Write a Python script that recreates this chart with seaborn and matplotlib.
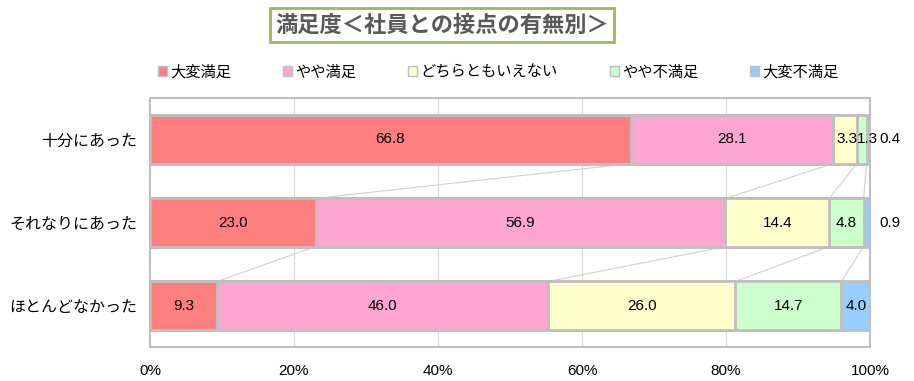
import numpy as np
import pandas as pd
import matplotlib
matplotlib.use('Agg')
import matplotlib.pyplot as plt
import seaborn as sns
from matplotlib.patches import Patch

sns.set_style('white')
plt.rcParams['font.family'] = ['Noto Sans CJK JP', 'DejaVu Sans']

# Data
groups = ['十分にあった', 'それなりにあった', 'ほとんどなかった']
levels = ['大変満足', 'やや満足', 'どちらともいえない', 'やや不満足', '大変不満足']
very_satisfied = [66.8, 23.0, 9.3]
satisfied = [28.1, 56.9, 46.0]
neutral = [3.3, 14.4, 26.0]
dissatisfied = [1.3, 4.8, 14.7]
very_dissatisfied = [0.4, 0.9, 4.0]
colors = ['#FF7F7F', '#FFA5D2', '#FFFFCC', '#CCFFCC', '#99CCFF']

values = np.array([very_satisfied, satisfied, neutral, dissatisfied, very_dissatisfied])
cum = values.cumsum(axis=0)

fig = plt.figure(figsize=(9.14, 3.81), dpi=100)
ax = fig.add_axes([0.164, 0.089, 0.788, 0.654])

# vertical grid behind bars
for g in [20, 40, 60, 80]:
    ax.axvline(g, color='#D9D9D9', lw=0.8, zorder=0)

# stacked bars: draw cumulative totals from largest to smallest
for i in range(len(levels) - 1, -1, -1):
    df = pd.DataFrame({'group': groups, 'value': cum[i]})
    sns.barplot(data=df, x='value', y='group', orient='h', color=colors[i],
                width=0.58, edgecolor='#BFBFBF', linewidth=2, saturation=1,
                ax=ax, zorder=2)

# series lines between bars
half = 0.29
for i in range(len(levels)):
    for r in range(len(groups) - 1):
        ax.plot([cum[i][r], cum[i][r + 1]], [r + half, r + 1 - half],
                color='#D0D0D0', lw=0.8, zorder=1)

# data labels
num_font = ['Liberation Sans', 'DejaVu Sans']
for r in range(len(groups)):
    left = 0
    for i in range(len(levels)):
        v = values[i][r]
        txt = f'{v:.1f}'
        if v < 1.0:
            ax.text(101.3, r, txt, ha='left', va='center', fontsize=11,
                    family=num_font, color='black')
        elif v < 2.0:
            # narrow segment: anchor on its left edge so it sits beside the neighbour
            ax.text(left - 0.1, r, txt, ha='left', va='center', fontsize=11,
                    family=num_font, color='black', zorder=3)
        elif v < 4.0:
            ax.text(left + v + 0.1, r, txt, ha='right', va='center', fontsize=11,
                    family=num_font, color='black', zorder=3)
        else:
            ax.text(left + v / 2, r, txt, ha='center', va='center', fontsize=11,
                    family=num_font, color='black', zorder=3)
        left += v

ax.set_xlim(0, 100)
ax.set_ylim(2.5, -0.5)
ax.set_xticks([0, 20, 40, 60, 80, 100])
ax.set_xticklabels(['0%', '20%', '40%', '60%', '80%', '100%'],
                   family=['Liberation Sans Narrow', 'Liberation Sans', 'DejaVu Sans'],
                   fontsize=11, color='black')
ax.set_yticks(range(len(groups)))
ax.set_yticklabels(groups, fontsize=11.5, color='black')
ax.set_xlabel('')
ax.set_ylabel('')
ax.tick_params(axis='x', length=0, pad=12)
ax.tick_params(axis='y', length=0, pad=9)
ax.set_yticks([0.5, 1.5], minor=True)
ax.tick_params(axis='y', which='minor', length=5, direction='in', color='#BFBFBF')
for s in ax.spines.values():
    s.set_color('#BFBFBF')
    s.set_linewidth(1.5)

# title box
fig.text(0.4836, 0.934, '満足度＜社員との接点の有無別＞', ha='center', va='center',
         fontsize=16, fontweight='bold', color='#595959',
         bbox=dict(boxstyle='square,pad=0.25', facecolor='white', edgecolor='#9BBB59', lw=2))

# legend
handles = [Patch(facecolor=c, edgecolor='#BFBFBF', lw=1) for c in colors]
fig.legend(handles, levels, loc='center', bbox_to_anchor=(0.545, 0.811), ncol=5,
           frameon=False, fontsize=11, handlelength=0.6, handleheight=0.6,
           handletextpad=0.2, columnspacing=3.4, labelcolor='black')

fig.savefig('out.png', dpi=100)
